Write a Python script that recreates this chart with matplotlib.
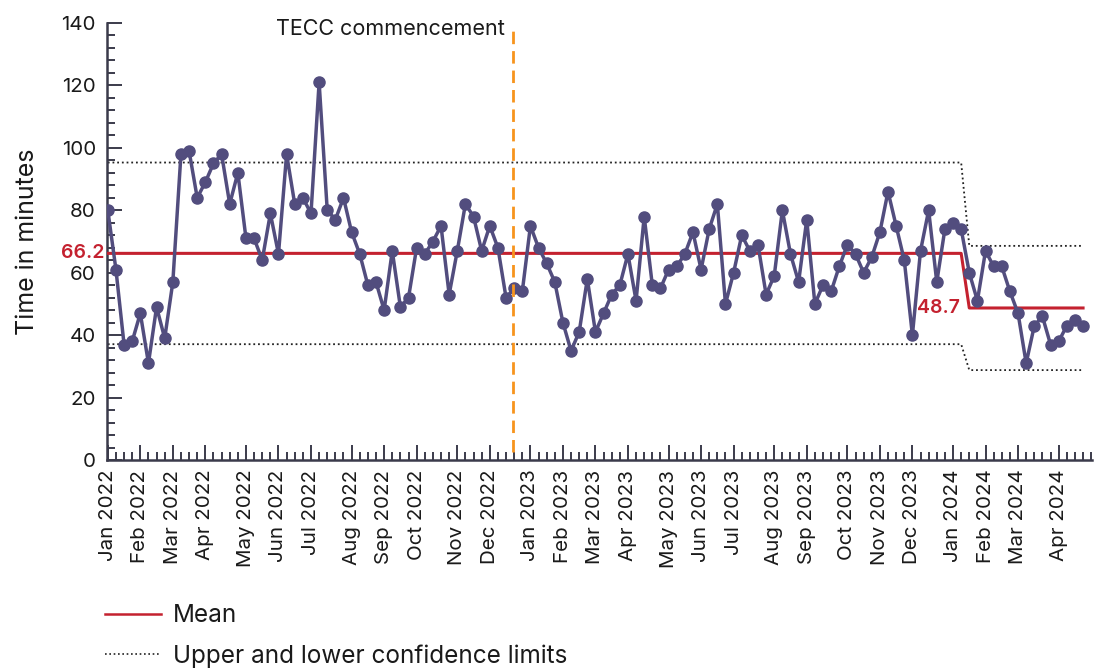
import numpy as np
import matplotlib
matplotlib.use("Agg")
import matplotlib.pyplot as plt
from matplotlib.lines import Line2D

plt.rcParams['font.family'] = ['Inter', 'DejaVu Sans']

# weekly median time in minutes, Jan 2022 - Apr 2024
minutes = [80, 61, 37, 38, 47, 31, 49, 39, 57, 98,
           99, 84, 89, 95, 98, 82, 92, 71, 71, 64,
           79, 66, 98, 82, 84, 79, 121, 80, 77, 84,
           73, 66, 56, 57, 48, 67, 49, 52, 68, 66,
           70, 75, 53, 67, 82, 78, 67, 75, 68, 52,
           55, 54, 75, 68, 63, 57, 44, 35, 41, 58,
           41, 47, 53, 56, 66, 51, 78, 56, 55, 61,
           62, 66, 73, 61, 74, 82, 50, 60, 72, 67,
           69, 53, 59, 80, 66, 57, 77, 50, 56, 54,
           62, 69, 66, 60, 65, 73, 86, 75, 64, 40,
           67, 80, 57, 74, 76, 74, 60, 51, 67, 62,
           62, 54, 47, 31, 43, 46, 37, 38, 43, 45,
           43]

# control chart phases
phase_split = 106
mean_before, mean_after = 66.2, 48.7
ucl_before, ucl_after = 95.3, 68.6
lcl_before, lcl_after = 37.1, 28.8

# month labels and the week index where each month starts
month_labels = ['Jan 2022', 'Feb 2022', 'Mar 2022', 'Apr 2022', 'May 2022', 'Jun 2022',
                'Jul 2022', 'Aug 2022', 'Sep 2022', 'Oct 2022', 'Nov 2022', 'Dec 2022',
                'Jan 2023', 'Feb 2023', 'Mar 2023', 'Apr 2023', 'May 2023', 'Jun 2023',
                'Jul 2023', 'Aug 2023', 'Sep 2023', 'Oct 2023', 'Nov 2023', 'Dec 2023',
                'Jan 2024', 'Feb 2024', 'Mar 2024', 'Apr 2024']
month_weeks = [0, 4, 8, 12, 17, 21, 25, 30, 34, 38, 43, 47,
               52, 56, 60, 64, 69, 73, 77, 82, 86, 91, 95, 99,
               104, 108, 112, 117]

tecc_week = 49.9

x = np.arange(len(minutes))
mean_line = np.where(x < phase_split, mean_before, mean_after)
ucl_line = np.where(x < phase_split, ucl_before, ucl_after)
lcl_line = np.where(x < phase_split, lcl_before, lcl_after)

purple = '#524d7e'
red = '#c4212f'
orange = '#f7941d'
axis_col = '#3b3b4b'
text_col = '#1a1a1a'

fig = plt.figure(figsize=(11.04, 6.68), dpi=100)
ax = fig.add_axes([107/1104, 1 - 460/668, (1092 - 107)/1104, (460 - 23)/668])

dot = (0, (1, 1.6))
ax.plot(x, ucl_line, color='#222222', lw=1.3, linestyle=dot, zorder=2)
ax.plot(x, lcl_line, color='#222222', lw=1.3, linestyle=dot, zorder=2)
ax.plot(x, mean_line, color=red, lw=2.2, zorder=3)
ax.plot(x, minutes, color=purple, lw=2.5, marker='o', markersize=8, zorder=4)

ax.plot([tecc_week, tecc_week], [2.5, 139.5], color=orange, lw=2, linestyle=(0, (4.5, 2.5)), zorder=5)
ax.text(tecc_week - 1.0, 138, 'TECC commencement', ha='right', va='center', fontsize=15.5, color=text_col)

ax.text(-0.003, mean_before, '66.2', transform=ax.get_yaxis_transform(), ha='right', va='center',
        fontsize=14, color=red, fontweight='semibold')
ax.text(phase_split - 1.2, mean_after, '48.7', ha='right', va='center',
        fontsize=14, color=red, fontweight='semibold')

ax.set_xlim(-0.1, 121.1)
ax.set_ylim(0, 140)
ax.set_yticks(np.arange(0, 141, 20))
ax.set_yticks(np.arange(0, 141, 4), minor=True)
ax.set_xticks(month_weeks)
ax.set_xticklabels(month_labels, rotation=90)
ax.set_xticks(np.arange(0, 122), minor=True)

ax.tick_params(axis='both', which='major', direction='in', length=11, width=1.4, color=axis_col,
               labelsize=14.8, labelcolor=text_col)
ax.tick_params(axis='both', which='minor', direction='in', length=6, width=1.4, color=axis_col)
ax.tick_params(axis='x', which='major', pad=7)
ax.tick_params(axis='y', which='major', pad=8)

for side in ['top', 'right']:
    ax.spines[side].set_visible(False)
for side in ['left', 'bottom']:
    ax.spines[side].set_color(axis_col)
    ax.spines[side].set_linewidth(1.8)

ax.set_ylabel('Time in minutes', fontsize=18, color=text_col, labelpad=16)

handles = [Line2D([], [], color=red, lw=1.8),
           Line2D([], [], color='#222222', lw=1.2, linestyle=dot)]
fig.legend(handles, ['Mean', 'Upper and lower confidence limits'], loc='upper left',
           bbox_to_anchor=(93/1104, 1 - 592/668), frameon=False, fontsize=17.5,
           handlelength=2.3, handletextpad=0.5, labelspacing=0.7, borderpad=0,
           labelcolor=text_col)

fig.savefig('out.png', dpi=100)
